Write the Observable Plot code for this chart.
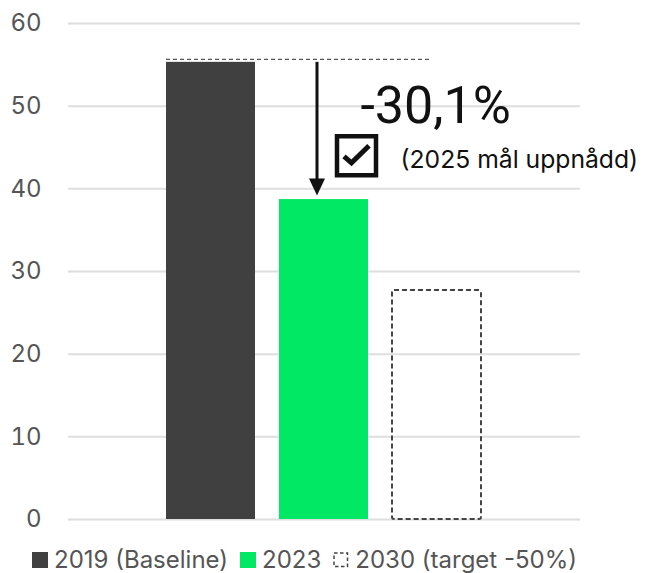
<!DOCTYPE html>
<html>
<head>
<meta charset="utf-8">
<script src="https://cdn.jsdelivr.net/npm/d3@7"></script>
<script src="https://cdn.jsdelivr.net/npm/@observablehq/plot@0.6"></script>
<style>
  html, body { margin: 0; padding: 0; background: #fff; }
  body { width: 653px; height: 573px; overflow: hidden; font-family: Inter, "DejaVu Sans", sans-serif; }
  #chart svg { display: block; }
  #legend { display: flex; align-items: center; height: 40px; padding-left: 32px; color: #555; font-size: 24px; line-height: 1; white-space: nowrap; }
  #legend .item { display: flex; align-items: center; margin-right: 12px; }
  #legend svg { display: block; margin-right: 6px; }
</style>
</head>
<body>
<div id="chart"></div>
<div id="legend"></div>
<script>
// ---- data ----
const categories = ["2019", "2023", "2030"];
const emissions = [55.3, 38.7, 27.7];
const legendLabels = ["2019 (Baseline)", "2023", "2030 (target -50%)"];
const barColors = ["#404040", "#00E864", "none"];
const yTicks = [0, 10, 20, 30, 40, 50, 60];
const changeLabel = "-30,1%";
const goalLabel = "(2025 mål uppnådd)";
// annotation anchors (in data units)
const changeLabelY = 50;
const goalLabelY = 43.5;
const checkY = 44.0;

const rows = categories.map((c, i) => ({year: c, value: emissions[i], color: barColors[i], label: legendLabels[i]}));
const solidRows = rows.filter(d => d.color !== "none");
const targetRows = rows.filter(d => d.color === "none");

// custom symbols
const boxSymbol = {draw(ctx) { const s = 19.5; ctx.moveTo(-s, -s); ctx.lineTo(s, -s); ctx.lineTo(s, s); ctx.lineTo(-s, s); ctx.closePath(); }};
const checkSymbol = {draw(ctx) { ctx.moveTo(-12.5, 0.5); ctx.lineTo(-5, 7); ctx.lineTo(12.5, -10); }};
const headSymbol = {draw(ctx) { ctx.moveTo(-8, -17); ctx.lineTo(8, -17); ctx.lineTo(0, 0); ctx.closePath(); }};

// dashed reference line at the baseline level
function referenceLine(index, scales) {
  const x = scales.x, y = scales.y;
  const x1 = x(categories[0]);
  const x2 = x(categories[2]) + x.bandwidth() * 0.42;
  const yy = y(emissions[0]) - 2.5;
  return d3.create("svg:line")
    .attr("x1", x1).attr("x2", x2).attr("y1", yy).attr("y2", yy)
    .attr("stroke", "#555").attr("stroke-width", 1.2).attr("stroke-dasharray", "4,3")
    .node();
}

const chart = Plot.plot({
  width: 653,
  height: 540,
  marginLeft: 68,
  marginRight: 73,
  marginTop: 23,
  marginBottom: 21,
  style: {fontFamily: "Inter, sans-serif", fontSize: "24px", color: "#555", background: "#fff", overflow: "visible"},
  x: {domain: categories, paddingInner: 0.212, paddingOuter: 0.87, axis: null},
  y: {domain: [0, 60], ticks: yTicks, tickSize: 0, tickPadding: 27, label: null},
  color: {type: "identity"},
  marks: [
    Plot.ruleY(yTicks, {stroke: "#dedede", strokeWidth: 2}),
    Plot.barY(solidRows, {x: "year", y: "value", fill: d => d.color}),
    Plot.barY(targetRows, {x: "year", y: "value", fill: "none", stroke: "#444", strokeWidth: 2, strokeDasharray: "5,3", rx: 2}),
    referenceLine,
    Plot.ruleX([0], {x: () => categories[1], y1: () => emissions[0], y2: () => emissions[1], dx: -7, insetBottom: 16, stroke: "#111", strokeWidth: 3}),
    Plot.dot([0], {x: () => categories[1], y: () => emissions[1], dx: -7, dy: -4, symbol: headSymbol, fill: "#111", stroke: "none"}),
    Plot.dot([0], {x: () => categories[1], y: () => checkY, dx: 32.5, symbol: boxSymbol, fill: "none", stroke: "#111", strokeWidth: 4.5}),
    Plot.dot([0], {x: () => categories[1], y: () => checkY, dx: 32.5, symbol: checkSymbol, fill: "none", stroke: "#111", strokeWidth: 5}),
    Plot.text([changeLabel], {x: () => categories[1], y: () => changeLabelY, text: d => d, dx: 36.5, textAnchor: "start", fontSize: 52, fill: "#111", fontFamily: "Roboto, sans-serif"}),
    Plot.text([goalLabel], {x: () => categories[1], y: () => goalLabelY, text: d => d, dx: 76.5, textAnchor: "start", fontSize: 24.7, fill: "#111", fontFamily: "Inter, sans-serif"})
  ]
});
document.getElementById("chart").appendChild(chart);

// legend
const legend = d3.select("#legend");
rows.forEach(d => {
  const item = legend.append("div").attr("class", "item");
  const sw = item.append("svg").attr("width", 16).attr("height", 16);
  if (d.color === "none") {
    sw.append("rect").attr("x", 1).attr("y", 1).attr("width", 13.5).attr("height", 13.5)
      .attr("fill", "none").attr("stroke", "#444").attr("stroke-width", 1.5).attr("stroke-dasharray", "3.5,2.5");
  } else {
    sw.append("rect").attr("width", 16).attr("height", 16).attr("fill", d.color);
  }
  item.append("span").text(d.label);
});
</script>
</body>
</html>
